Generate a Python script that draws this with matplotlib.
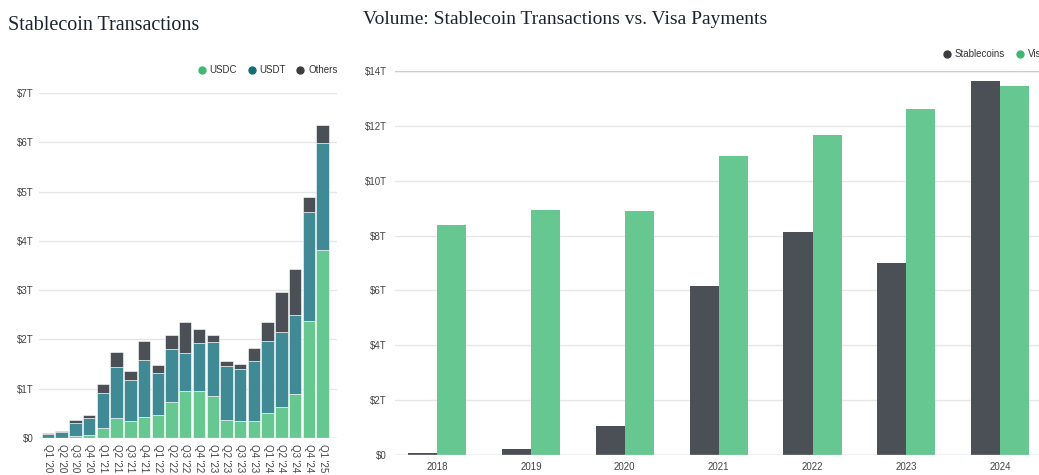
import matplotlib.pyplot as plt
from matplotlib.lines import Line2D

# Quarterly stablecoin transaction volume, $T (segment sizes)
quarters = ["Q1 '20", "Q2 '20", "Q3 '20", "Q4 '20", "Q1 '21", "Q2 '21", "Q3 '21",
            "Q4 '21", "Q1 '22", "Q2 '22", "Q3 '22", "Q4 '22", "Q1 '23", "Q2 '23",
            "Q3 '23", "Q4 '23", "Q1 '24", "Q2 '24", "Q3 '24", "Q4 '24", "Q1 '25"]
usdc = [0.01, 0.01, 0.05, 0.07, 0.20, 0.41, 0.34, 0.43, 0.46, 0.74, 0.95,
        0.95, 0.86, 0.36, 0.34, 0.35, 0.51, 0.62, 0.89, 2.37, 3.82]
usdt = [0.07, 0.12, 0.25, 0.33, 0.71, 1.03, 0.83, 1.15, 0.86, 1.07, 0.77,
        0.98, 1.09, 1.11, 1.07, 1.21, 1.45, 1.54, 1.60, 2.21, 2.16]
others = [0.03, 0.02, 0.07, 0.07, 0.18, 0.30, 0.18, 0.39, 0.17, 0.27, 0.63,
          0.29, 0.15, 0.10, 0.10, 0.26, 0.39, 0.80, 0.94, 0.31, 0.38]

# Annual volume, $T
years = ['2018', '2019', '2020', '2021', '2022', '2023', '2024']
stablecoins = [0.10, 0.23, 1.08, 6.15, 8.12, 6.99, 13.62]
visa = [8.40, 8.93, 8.90, 10.90, 11.67, 12.62, 13.45]

plt.rcParams['font.family'] = ['Liberation Sans', 'DejaVu Sans']

green = '#66c791'
teal = '#3f8a95'
dark = '#4b4f56'
grid_c = '#e6e6e6'
tick_c = '#444444'

fig = plt.figure(figsize=(10.39, 4.75), dpi=100)

# titles
fig.text(8 / 1039, 1 - 30 / 475, 'Stablecoin Transactions', family='Liberation Serif',
         fontsize=14.5, color='#1c2330')
fig.text(363 / 1039, 1 - 24 / 475, 'Volume: Stablecoin Transactions vs. Visa Payments',
         family='Liberation Serif', fontsize=14, color='#1c2330')


def style_axes(ax):
    for s in ax.spines.values():
        s.set_visible(False)
    ax.grid(axis='y', color=grid_c, linewidth=1)
    ax.set_axisbelow(True)
    ax.tick_params(axis='both', length=0, labelsize=7, colors=tick_c)


# left: stacked quarterly bars
ax1 = fig.add_axes([39 / 1039, 37 / 475, 298 / 1039, 345 / 475])
x = list(range(len(quarters)))
bottom2 = [a for a in usdc]
bottom3 = [a + b for a, b in zip(usdc, usdt)]
ax1.bar(x, usdc, width=0.9, color=green, edgecolor='white', linewidth=0.4)
ax1.bar(x, usdt, width=0.9, bottom=bottom2, color=teal, edgecolor='white', linewidth=0.4)
ax1.bar(x, others, width=0.9, bottom=bottom3, color=dark, edgecolor='white', linewidth=0.4)
ax1.set_xlim(-0.65, 21.05)
ax1.set_ylim(0, 7)
ax1.set_yticks(range(8))
ax1.set_yticklabels(['$0'] + ['$%dT' % i for i in range(1, 8)])
ax1.set_xticks(x)
ax1.set_xticklabels(quarters, rotation=-90)
style_axes(ax1)
ax1.tick_params(axis='x', pad=4)
ax1.tick_params(axis='y', pad=4)
ax1.axhline(0, color='#d0d0d0', linewidth=1)

h1 = [Line2D([], [], marker='o', linestyle='', color=c, markersize=5)
      for c in ['#3dba70', '#0f6e78', '#3b3d42']]
ax1.legend(h1, ['USDC', 'USDT', 'Others'], loc='lower right', bbox_to_anchor=(1.015, 1.04),
           ncol=3, frameon=False, fontsize=7, handlelength=1, handletextpad=0.3,
           columnspacing=1.0, borderaxespad=0, labelcolor='#333333')

# right: grouped annual bars
ax2 = fig.add_axes([395 / 1039, 19.7 / 475, 647 / 1039, 384.6 / 475])
xs = list(range(len(years)))
w = 0.31
ax2.bar([i - w / 2 for i in xs], stablecoins, width=w, color=dark)
ax2.bar([i + w / 2 for i in xs], visa, width=w, color=green)
ax2.set_xlim(-0.448, 6.445)
ax2.set_ylim(0, 14)
ax2.set_yticks(range(0, 15, 2))
ax2.set_yticklabels(['$0'] + ['$%dT' % i for i in range(2, 15, 2)])
ax2.set_xticks(xs)
ax2.set_xticklabels(years)
style_axes(ax2)
ax2.tick_params(axis='x', pad=5)
ax2.tick_params(axis='y', pad=6)
ax2.axhline(0, color='#cccccc', linewidth=1)
ax2.axhline(14, color='#cccccc', linewidth=1)

h2 = [Line2D([], [], marker='o', linestyle='', color=c, markersize=5)
      for c in ['#3b3d42', '#3dba70']]
ax2.legend(h2, ['Stablecoins', 'Visa'], loc='lower left', bbox_to_anchor=(0.84, 1.02),
           ncol=2, frameon=False, fontsize=7, handlelength=1, handletextpad=0.3,
           columnspacing=1.0, borderaxespad=0, labelcolor='#333333')

fig.savefig('out.png', dpi=100)
